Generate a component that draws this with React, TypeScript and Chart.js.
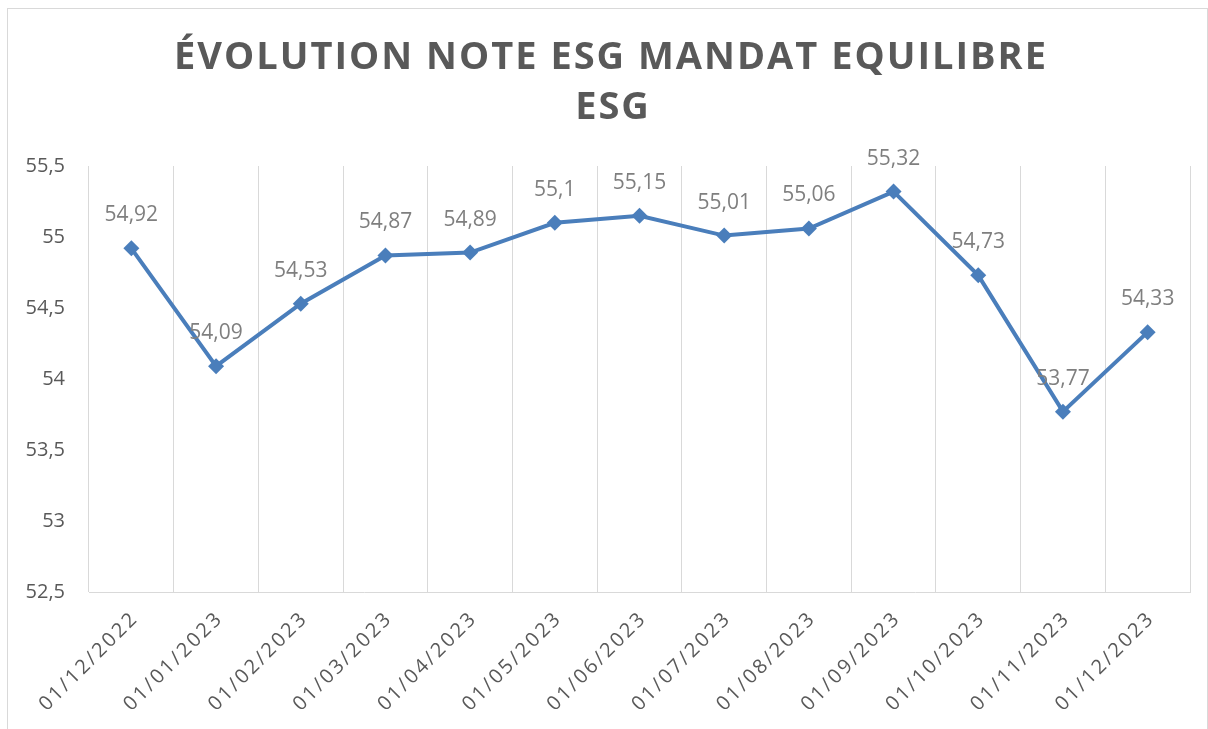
import React, { useEffect, useRef } from "react";
import { Chart, registerables } from "chart.js";

Chart.register(...registerables);

const categories = [
  "01/12/2022", "01/01/2023", "01/02/2023", "01/03/2023", "01/04/2023",
  "01/05/2023", "01/06/2023", "01/07/2023", "01/08/2023", "01/09/2023",
  "01/10/2023", "01/11/2023", "01/12/2023",
];
const esgScores = [54.92, 54.09, 54.53, 54.87, 54.89, 55.1, 55.15, 55.01, 55.06, 55.32, 54.73, 53.77, 54.33];
const titleLines = ["ÉVOLUTION NOTE ESG MANDAT EQUILIBRE", "ESG"];
const yMin = 52.5;
const yMax = 55.5;
const yStep = 0.5;

const fmt = (v: number) => String(v).replace(".", ",");

const decorPlugin = {
  id: "decor",
  beforeDraw(chart: any) {
    const ctx = chart.ctx;
    ctx.save();
    ctx.fillStyle = "#ffffff";
    ctx.fillRect(0, 0, chart.width, chart.height);
    ctx.strokeStyle = "#d9d9d9";
    ctx.lineWidth = 1;
    ctx.strokeRect(7.5, 8.5, 1200, 740);
    // title
    ctx.fillStyle = "#595959";
    ctx.font = "bold 38px 'Open Sans'";
    (ctx as any).letterSpacing = "2px";
    ctx.textAlign = "center";
    ctx.textBaseline = "middle";
    ctx.fillText(titleLines[0], 611, 58);
    ctx.fillText(titleLines[1], 613, 108);
    ctx.restore();
  },
  afterDraw(chart: any) {
    const ctx = chart.ctx;
    const xs = chart.scales.x;
    ctx.save();
    // x labels
    ctx.fillStyle = "#595959";
    ctx.font = "20px 'Open Sans'";
    (ctx as any).letterSpacing = "2.5px";
    ctx.textAlign = "right";
    ctx.textBaseline = "middle";
    categories.forEach((c, i) => {
      const x = xs.getPixelForValue(i);
      ctx.save();
      ctx.translate(x + 4, xs.top + 23);
      ctx.rotate(-Math.PI / 4);
      ctx.fillText(c, 0, 0);
      ctx.restore();
    });
    // data labels
    const meta = chart.getDatasetMeta(0);
    ctx.fillStyle = "#7f7f7f";
    ctx.font = "21px 'Open Sans'";
    (ctx as any).letterSpacing = "0px";
    ctx.textAlign = "center";
    ctx.textBaseline = "middle";
    meta.data.forEach((pt: any, i: number) => {
      ctx.fillText(fmt(esgScores[i]), pt.x, pt.y - 33);
    });
    ctx.restore();
  },
};

export default function App() {
  const ref = useRef<HTMLCanvasElement>(null);
  useEffect(() => {
    if (!ref.current) return;
    const chart = new Chart(ref.current, {
      type: "line",
      data: {
        labels: categories,
        datasets: [
          {
            data: esgScores,
            borderColor: "#4a7ebb",
            backgroundColor: "#4a7ebb",
            borderWidth: 4,
            pointStyle: "rectRot",
            pointRadius: 8,
            pointBorderWidth: 0,
            pointBackgroundColor: "#4a7ebb",
            tension: 0,
          },
        ],
      },
      options: {
        animation: false,
        responsive: false,
        layout: { padding: { top: 166, right: 18, left: 0, bottom: 0 } },
        plugins: {
          legend: { display: false },
          title: { display: false },
          tooltip: { enabled: false },
        },
        scales: {
          x: {
            type: "category",
            offset: true,
            grid: { display: true, offset: true, color: "#d9d9d9", lineWidth: 1, drawTicks: false },
            border: { display: true, color: "#d9d9d9", width: 1 },
            ticks: { display: false },
            afterFit: (s: any) => { s.height = 729 - 592; },
          },
          y: {
            min: yMin,
            max: yMax,
            grid: { display: false, drawTicks: false },
            border: { display: false },
            ticks: {
              stepSize: yStep,
              color: "#595959",
              font: { family: "'Open Sans'", size: 20 },
              padding: 24,
              callback: (v: any) => fmt(Number(v)),
            },
            afterFit: (s: any) => { s.width = 89; },
          },
        },
      },
      plugins: [decorPlugin],
    });
    return () => chart.destroy();
  }, []);
  return (
    <div style={{ position: "absolute", left: 0, top: 0, width: 1208, height: 729 }}>
      <canvas ref={ref} width={1208} height={729} style={{ width: 1208, height: 729, display: "block" }} />
    </div>
  );
}
